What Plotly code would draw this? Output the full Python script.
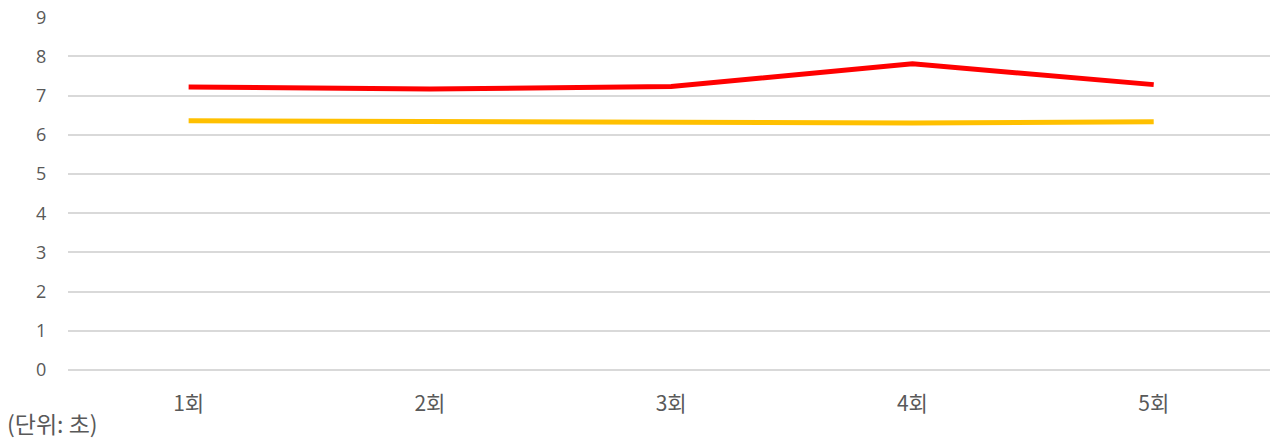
import plotly.graph_objects as go

categories = ["1회", "2회", "3회", "4회", "5회"]
red_values = [7.22, 7.17, 7.23, 7.81, 7.28]
yellow_values = [6.36, 6.35, 6.32, 6.30, 6.33]
y_ticks = [0, 1, 2, 3, 4, 5, 6, 7, 8, 9]

FONT = "Open Sans, Noto Sans CJK KR, sans-serif"
KFONT = "Noto Sans CJK KR, sans-serif"
fig = go.Figure()
fig.add_trace(go.Scatter(x=categories, y=yellow_values, mode="lines",
                         line=dict(color="#FFC000", width=5), showlegend=False))
fig.add_trace(go.Scatter(x=categories, y=red_values, mode="lines",
                         line=dict(color="#FF0000", width=5), showlegend=False))

fig.update_layout(
    width=1270, height=440,
    margin=dict(l=68, r=0, t=17, b=70),
    plot_bgcolor="white", paper_bgcolor="white",
    font=dict(family=FONT, size=16, color="#595959"),
    xaxis=dict(type="category", range=[-0.5, 4.482], showgrid=False,
               showline=False, zeroline=False, automargin=False,
               ticks="outside", ticklen=15, tickcolor="rgba(0,0,0,0)",
               tickfont=dict(size=21, color="#595959", family=KFONT)),
    yaxis=dict(range=[0, 9.005], tickvals=y_ticks, showgrid=True, automargin=False,
               gridcolor="#D9D9D9", gridwidth=1.5, zeroline=True,
               zerolinecolor="#D9D9D9", zerolinewidth=1.5, showline=False,
               ticklabeloverflow="allow",
               ticks="outside", ticklen=17, tickcolor="rgba(0,0,0,0)",
               tickfont=dict(size=18, color="#595959", family=FONT)),
    annotations=[dict(text="(단위: 초)", xref="paper", yref="paper",
                      x=-63/1202, y=-(423-370)/353, xanchor="left", yanchor="middle",
                      showarrow=False, font=dict(size=23, color="#595959", family=KFONT))],
)

fig.write_html("out.html", config={"displayModeBar": False},
               post_script="document.body.style.margin='0';")
